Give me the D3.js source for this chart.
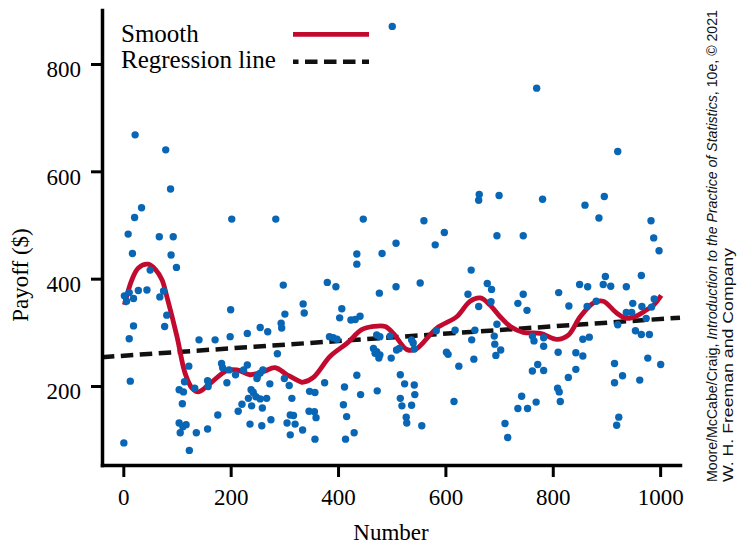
<!DOCTYPE html>
<html>
<head>
<meta charset="utf-8">
<script src="https://cdn.jsdelivr.net/npm/d3@7"></script>
<style>
  html, body { margin: 0; padding: 0; background: #fff; }
  svg { display: block; }
</style>
</head>
<body>
<svg id="chart" width="743" height="552"></svg>
<script>
// ---- data ----
const pointX = [22,79,88,34,21,202,284,9,67,93,17,89,99,50,2,11,6,19,28,44,68,75,81,77,19,11,13,1,
  298,200,301,294,295,255,269,231,199,171,141,287,122,183,185,197,193,209,224,231,249,255,260,250,273,300,309,
  114,104,112,133,157,158,314,110,238,242,233,247,255,267,221,239,259,214,176,311,317,275,236,258,305,320,311,334,
  104,117,111,106,136,157,123,
  501,447,560,598,663,662,508,581,435,435,482,648,380,396,508,553,477,642,678,335,337,407,403,424,432,441,662,
  384,391,398,472,478,497,583,618,655,649,537,540,542,466,472,478,476,469,499,509,514,602,605,625,653,
  375,435,347,357,412,442,473,516,524,542,543,516,519,537,527,528,556,616,410,416,346,356,359,430,414,357,
  770,921,700,781,860,896,886,983,696,745,988,998,898,965,686,850,865,894,908,937,745,811,685,735,752,830,864,881,
  949,966,989,984,937,947,974,696,921,691,692,703,694,762,765,783,783,856,868,954,965,980,810,843,856,977,1001,
  915,772,762,783,843,829,930,915,962,809,812,814,742,735,753,769,711,716,923,919];
const pointY = [668,640,567,532,514,511,511,483,478,478,447,444,421,416,368,374,358,363,378,379,366,377,332,311,312,288,209,94,
  388,342,334,317,308,309,301,298,292,286,286,260,237,242,234,230,206,221,230,239,214,224,230,219,204,214,201,
  208,193,189,196,210,199,177,167,193,188,177,180,176,177,166,163,159,153,146,146,145,137,129,126,131,129,109,118,
  131,128,124,113,113,120,80,
  870,511,508,486,557,546,466,463,446,427,447,416,393,385,385,392,373,371,391,353,336,344,327,323,324,330,348,
  292,290,287,295,292,293,303,304,304,286,286,280,269,270,264,258,252,261,252,267,270,263,259,237,250,
  206,220,190,188,198,184,191,221,204,202,184,177,163,164,142,131,126,171,165,143,153,152,141,113,101,101,
  755,637,555,548,537,553,513,508,480,480,476,452,404,406,380,389,385,389,386,385,371,374,357,354,341,349,348,358,
  354,348,362,347,337,337,326,315,314,293,278,267,257,293,284,290,274,287,291,303,296,296,263,262,256,252,240,
  242,240,228,229,231,216,219,206,211,196,189,171,181,158,158,170,130,104,142,127];

const smoothX = [2,16,28,46,60,72,81,100,115,128,140,162,193,212,236,261,283,305,330,335,354,385,417,444,466,488,503,528,544,
  584,621,646,665,683,702,721,745,777,808,829,851,876,894,919,938,957,975,988,1002];
const smoothY = [351,398,420,427,417,398,367,292,224,196,189,205,229,230,221,227,234,221,208,207,216,255,280,305,311,311,298,268,268,
  308,329,358,364,351,329,311,300,298,287,295,329,355,358,336,326,331,342,351,369];

const regX = [-40, 1037];
const regY = [253.7, 327.3];

const xTicks = [0, 200, 400, 600, 800, 1000];
const yTicks = [200, 400, 600, 800];

const legendLabels = ["Smooth", "Regression line"];
const xTitle = "Number";
const yTitle = "Payoff ($)";
const creditItalic = "Introduction to the Practice of Statistics";

// ---- layout ----
const svg = d3.select("#chart");
const mLeft = 102, mRight = 680, mTop = 10, mBottom = 465;
const x = d3.scaleLinear().domain([-39.7, 1037]).range([mLeft, mRight]);
const y = d3.scaleLinear().domain([52.8, 900.6]).range([mBottom, mTop]);

const blue = "#0866b5";
const red = "#c20a2f";
const serif = "'Liberation Serif', 'Times New Roman', serif";

// regression line
svg.append("path")
  .datum(regX.map((d, i) => [d, regY[i]]))
  .attr("d", d3.line().x(d => x(d[0])).y(d => y(d[1])))
  .attr("fill", "none").attr("stroke", "#111").attr("stroke-width", 4.5)
  .attr("stroke-dasharray", "12.5,6.5");

// smooth line
svg.append("path")
  .datum(smoothX.map((d, i) => [d, smoothY[i]]))
  .attr("d", d3.line().x(d => x(d[0])).y(d => y(d[1])).curve(d3.curveCatmullRom.alpha(0.5)))
  .attr("fill", "none").attr("stroke", red).attr("stroke-width", 4.8)
  .attr("stroke-linejoin", "round");

// points
svg.append("g").selectAll("circle")
  .data(pointX.map((d, i) => [d, pointY[i]]))
  .join("circle")
  .attr("cx", d => x(d[0])).attr("cy", d => y(d[1]))
  .attr("r", 3.7).attr("fill", blue);

// axes
const yAxis = svg.append("g").attr("transform", `translate(${mLeft},0)`)
  .call(d3.axisLeft(y).tickValues(yTicks).tickFormat(d3.format("d")).tickSize(11).tickSizeOuter(0).tickPadding(10));
const xAxis = svg.append("g").attr("transform", `translate(0,${mBottom})`)
  .call(d3.axisBottom(x).tickValues(xTicks).tickFormat(d3.format("d")).tickSize(12).tickSizeOuter(0).tickPadding(12));

[yAxis, xAxis].forEach(g => {
  g.select(".domain").attr("stroke", "#000").attr("stroke-width", 3.5).attr("stroke-linecap", "square");
  g.selectAll(".tick line").attr("stroke", "#000").attr("stroke-width", 3);
  g.selectAll(".tick text").attr("fill", "#000").style("font-family", serif).style("font-size", "23px");
});
yAxis.selectAll(".tick text").attr("dy", "0.56em");

// axis titles
svg.append("text").attr("x", (mLeft + mRight) / 2).attr("y", 540)
  .attr("text-anchor", "middle").style("font-family", serif).style("font-size", "23px").text(xTitle);
svg.append("text").attr("transform", "translate(28,275) rotate(-90)")
  .attr("text-anchor", "middle").style("font-family", serif).style("font-size", "23px").text(yTitle);

// legend
const legend = svg.append("g");
legend.append("text").attr("x", 121).attr("y", 42).style("font-family", serif).style("font-size", "25px").text(legendLabels[0]);
legend.append("text").attr("x", 121).attr("y", 68).style("font-family", serif).style("font-size", "25px").text(legendLabels[1]);
legend.append("line").attr("x1", 293).attr("x2", 369).attr("y1", 34.3).attr("y2", 34.3)
  .attr("stroke", red).attr("stroke-width", 4.8);
legend.append("line").attr("x1", 293).attr("x2", 369).attr("y1", 61.7).attr("y2", 61.7)
  .attr("stroke", "#111").attr("stroke-width", 4.5).attr("stroke-dasharray", "5.5,6.5,12.5,6.5,12.5,6.5,12.5,6.5,12.5");

// credit text
const sans = "'Liberation Sans', Arial, sans-serif";
const c1 = svg.append("text").attr("transform", "translate(717,482) rotate(-90)")
  .style("font-family", sans).style("font-size", "15px").attr("fill", "#111")
  .attr("textLength", 472).attr("lengthAdjust", "spacingAndGlyphs");
c1.append("tspan").text("Moore/McCabe/Craig, ");
c1.append("tspan").style("font-style", "italic").text(creditItalic);
c1.append("tspan").text(", 10e, © 2021");
svg.append("text").attr("transform", "translate(733,482) rotate(-90)")
  .style("font-family", sans).style("font-size", "15px").attr("fill", "#111")
  .attr("textLength", 234).attr("lengthAdjust", "spacingAndGlyphs")
  .text("W. H. Freeman and Company");
</script>
</body>
</html>
